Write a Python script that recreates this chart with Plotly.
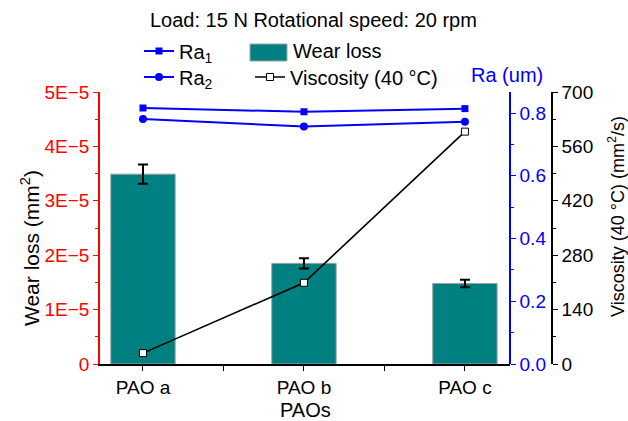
import plotly.graph_objects as go

categories = ["PAO a", "PAO b", "PAO c"]
cat_pos = [0, 1, 2]
wear_loss = [3.49e-5, 1.85e-5, 1.48e-5]
wear_err = [1.75e-6, 0.95e-6, 0.7e-6]
viscosity = [28, 209, 598]
ra1 = [0.816, 0.804, 0.814]
ra2 = [0.781, 0.757, 0.772]
wear_ticks = [0, 1e-5, 2e-5, 3e-5, 4e-5, 5e-5]
wear_ticktext = ["0", "1E\u22125", "2E\u22125", "3E\u22125", "4E\u22125", "5E\u22125"]
ra_ticks = [0.0, 0.2, 0.4, 0.6, 0.8]
visc_ticks = [0, 140, 280, 420, 560, 700]

FONT = "Liberation Sans, Arial, sans-serif"
FS = 19
LFS = 20
TEAL = "#008080"
BLUE = "#0000ff"
W, H = 628, 421
ML, MR, MT, MB = 100, 30, 92, 57
PW = W - ML - MR
PH = H - MT - MB
XD = (510 - ML) / PW
V_POS = (552 - ML) / PW


def px_x(px):
    return (px - ML) / PW


def px_y(py):
    return (H - MB - py) / PH


fig = go.Figure()
fig.add_trace(go.Bar(
    x=cat_pos, y=wear_loss, width=0.4, name="Wear loss",
    marker=dict(color=TEAL, line=dict(color="#a0a0a0", width=1)),
    error_y=dict(type="data", array=wear_err, color="black", thickness=2, width=5),
    showlegend=False, yaxis="y",
))
fig.add_trace(go.Scatter(
    x=cat_pos, y=viscosity, name="Viscosity (40 \u00b0C)", mode="lines+markers",
    line=dict(color="black", width=1.6),
    marker=dict(symbol="square", size=7, color="white", line=dict(color="black", width=1)),
    legend="legend3", yaxis="y3",
))
fig.add_trace(go.Scatter(
    x=cat_pos, y=ra1, name="Ra<sub>1</sub>", mode="lines+markers",
    line=dict(color=BLUE, width=2),
    marker=dict(symbol="square", size=7, color=BLUE),
    legend="legend", yaxis="y2",
))
fig.add_trace(go.Scatter(
    x=cat_pos, y=ra2, name="Ra<sub>2</sub>", mode="lines+markers",
    line=dict(color=BLUE, width=2),
    marker=dict(symbol="circle", size=8, color=BLUE),
    legend="legend2", yaxis="y2",
))


def leg(xpx, ypx):
    return dict(x=px_x(xpx), y=px_y(ypx), xanchor="left", yanchor="middle",
                bgcolor="rgba(0,0,0,0)", font=dict(size=LFS), tracegroupgap=0,
                itemwidth=30)


fig.update_layout(
    width=W, height=H,
    margin=dict(l=ML, r=MR, t=MT, b=MB, autoexpand=False),
    paper_bgcolor="white", plot_bgcolor="white",
    font=dict(family=FONT, size=FS, color="black"),
    showlegend=True,
    xaxis=dict(
        domain=[0, XD], range=[-0.267, 2.28],
        tickvals=cat_pos, ticktext=categories,
        showline=True, linecolor="black", linewidth=1.5,
        ticks="outside", ticklen=5, tickcolor="black",
        minor=dict(tickvals=[0.5, 1.5], ticks="outside", ticklen=5, tickcolor="black"),
        showgrid=False, zeroline=False,
        tickfont=dict(size=FS),
    ),
    yaxis=dict(
        range=[0, 5e-5], tickvals=wear_ticks, ticktext=wear_ticktext,
        showline=True, linecolor="red", linewidth=1.5,
        ticks="outside", ticklen=5, tickcolor="red",
        minor=dict(dtick=0.5e-5, ticks="outside", ticklen=3, tickcolor="red"),
        tickfont=dict(color="red", size=FS),
        showgrid=False, zeroline=False,
    ),
    yaxis2=dict(
        range=[0, 0.867], tickvals=ra_ticks, tickformat=".1f",
        overlaying="y", side="right", anchor="free", position=XD,
        showline=True, linecolor=BLUE, linewidth=1.5,
        ticks="outside", ticklen=5, tickcolor=BLUE,
        minor=dict(dtick=0.1, ticks="outside", ticklen=3, tickcolor=BLUE),
        tickfont=dict(color=BLUE, size=FS),
        showgrid=False, zeroline=False,
    ),
    yaxis3=dict(
        range=[0, 700], tickvals=visc_ticks,
        overlaying="y", side="right", anchor="free", position=V_POS,
        showline=True, linecolor="black", linewidth=1.5,
        ticks="outside", ticklen=5, tickcolor="black",
        minor=dict(dtick=70, ticks="outside", ticklen=3, tickcolor="black"),
        tickfont=dict(color="black", size=FS),
        showgrid=False, zeroline=False,
    ),
    legend=leg(139, 51),
    legend2=leg(139, 77),
    legend3=leg(250, 77),
)

# legend key for the bar series
fig.add_shape(type="rect", xref="paper", yref="paper",
              x0=px_x(250), x1=px_x(287), y0=px_y(61), y1=px_y(44),
              fillcolor=TEAL, line=dict(color="#a0a0a0", width=1))
fig.add_annotation(text="Wear loss", x=px_x(291), y=px_y(51), xref="paper", yref="paper",
                   showarrow=False, font=dict(size=LFS), xanchor="left", yanchor="middle")

fig.add_annotation(text="Load: 15 N Rotational speed: 20 rpm", x=px_x(313), y=px_y(20),
                   xref="paper", yref="paper", showarrow=False, font=dict(size=20),
                   xanchor="center", yanchor="middle")
fig.add_annotation(text="Ra (um)", x=px_x(507), y=px_y(75), xref="paper", yref="paper",
                   showarrow=False, font=dict(size=LFS, color=BLUE),
                   xanchor="center", yanchor="middle")
fig.add_annotation(text="Wear loss (mm<sup>2</sup>)", x=px_x(30), y=px_y(248), xref="paper", yref="paper",
                   showarrow=False, textangle=-90, font=dict(size=21),
                   xanchor="center", yanchor="middle")
fig.add_annotation(text="Viscosity (40 \u00b0C) (mm<sup>2</sup>/s)", x=px_x(616), y=px_y(217), xref="paper", yref="paper",
                   showarrow=False, textangle=-90, font=dict(size=18),
                   xanchor="center", yanchor="middle")
fig.add_annotation(text="PAOs", x=px_x(305), y=px_y(410), xref="paper", yref="paper",
                   showarrow=False, font=dict(size=20),
                   xanchor="center", yanchor="middle")

fig.write_html("out.html", config={"displayModeBar": False},
               post_script="document.body.style.margin='0';document.body.style.overflow='hidden';")
